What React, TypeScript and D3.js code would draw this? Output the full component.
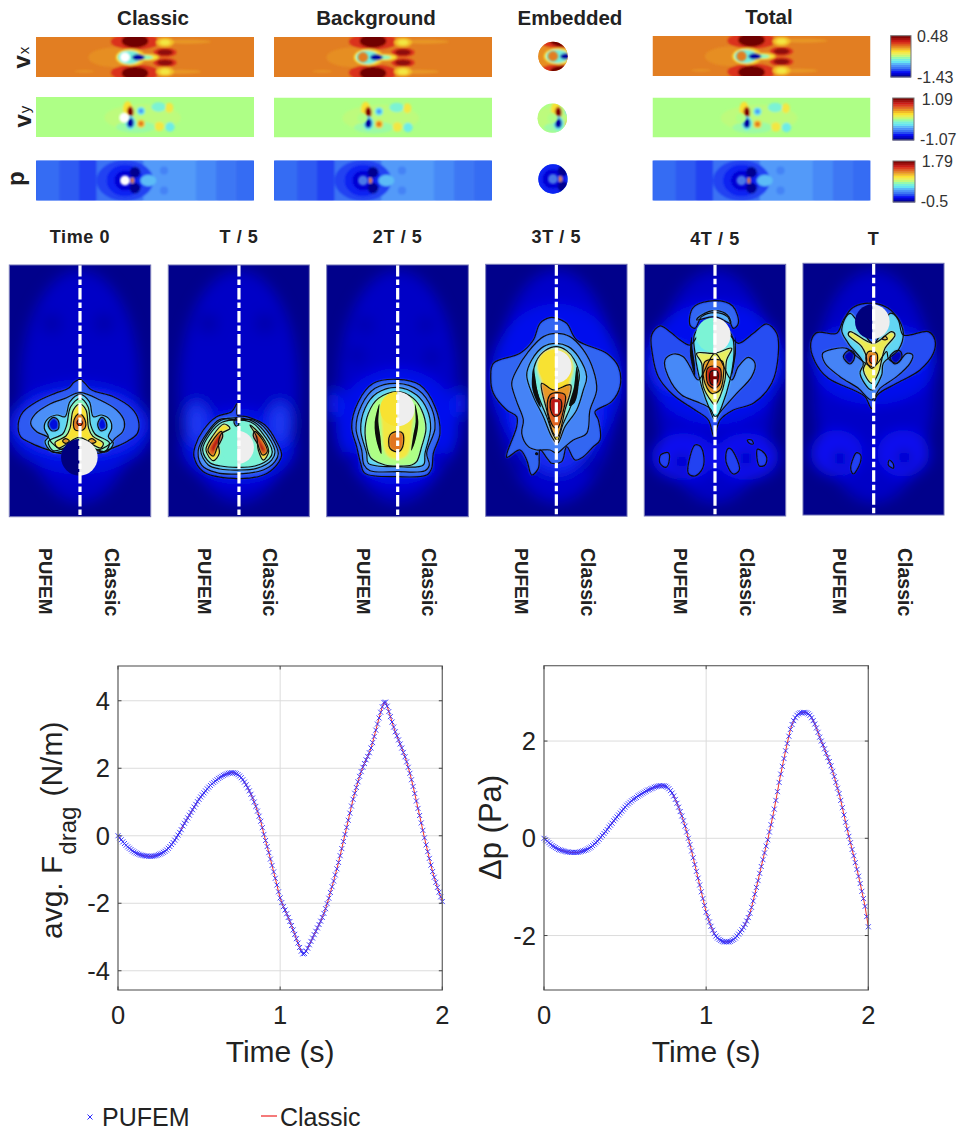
import React from "react";
import * as d3 from "d3";

const WIDTH = 959;
const HEIGHT = 1133;
const SANS = "'Liberation Sans', Arial, sans-serif";
const INK = "#222";

// colour map of the field plots, level 0..1
const jetLevels = [0, 0.12, 0.2, 0.3, 0.38, 0.45, 0.5, 0.56, 0.63, 0.75, 0.86, 1];
const jetColors = ["#00007c", "#0508f2", "#3366f2", "#55a0fa", "#66e8f0", "#80f5d0", "#aeff86", "#e8f060", "#fbe02c", "#e27e22", "#d8201a", "#700000"];
const jet = d3.scaleLinear().domain(jetLevels).range(jetColors);

// ---- top block: strips. blob = [x, y, rx, ry, level], strip frame is 654 x 120
const stripTitles = ["Classic", "Background", "Embedded", "Total"];
const rowNames = ["x", "y", ""];
const rowBackground = [0.75, 0.5, 0.2];
const colorbarMin = ["-1.43", "-1.07", "-0.5"];
const colorbarMax = ["0.48", "1.09", "1.79"];

const vxBlobs = [
  [242, 61, 85, 30, 0.73], [145, 103, 30, 3, 0.72], [450, 14, 75, 6, 0.72], [430, 104, 65, 6, 0.72],
  [297, 14, 72, 24, 0.84], [297, 12, 40, 20, 1], [297, 107, 72, 24, 0.84], [297, 109, 40, 20, 1],
  [387, 16, 27, 14, 0.67], [387, 16, 15, 8, 0.6], [387, 104, 27, 14, 0.67], [387, 104, 15, 8, 0.6],
  [387, 46, 35, 13, 0.84], [387, 46, 24, 9, 0.96], [387, 77, 35, 13, 0.84], [387, 77, 24, 9, 0.96],
  [284, 61, 44, 25, 0.62], [332, 61, 36, 10, 0.62], [280, 61, 34, 20, 0.42], [326, 61, 26, 6, 0.46], [307, 61, 19, 9, 0.04],
];
const vyBlobs = [
  [320, 62, 115, 40, 0.515], [300, 90, 60, 18, 0.48], [275, 35, 14, 22, 0.62], [283, 45, 10, 17, 0.9], [283, 45, 6, 12, 1],
  [283, 77, 15, 21, 0.38], [283, 77, 10, 14, 0.04], [315, 42, 12, 12, 0.38], [315, 42, 7, 7, 0.28],
  [315, 80, 12, 12, 0.66], [315, 80, 7, 7, 0.76], [368, 30, 22, 14, 0.44], [400, 32, 12, 15, 0.6],
  [370, 88, 14, 14, 0.6], [402, 90, 14, 14, 0.4],
];
const pBlobs = [
  [267, 60, 85, 62, 0.17], [267, 60, 55, 47, 0.14], [267, 60, 32, 30, 0.09], [297, 35, 16, 16, 0.02], [297, 83, 16, 16, 0.02],
  [337, 60, 24, 17, 0.33], [384, 30, 12, 12, 0.25], [384, 90, 12, 12, 0.25], [289, 60, 5, 8, 0.68], [289, 60, 2.5, 4, 0.88],
];
// pressure steps along the channel: [from, to, level]
const pBands = [
  [0, 70, 0.21], [70, 129, 0.19], [129, 182, 0.17], [182, 322, 0.22], [322, 482, 0.29], [482, 542, 0.26], [542, 602, 0.23], [602, 654, 0.21],
];
const rowBlobs = [vxBlobs, vyBlobs, pBlobs];
const cylinderAt = [[267, 61], [265, 62], [267, 60]];
const cylinderR = 15;

// ---- time panels. frame = read-off extent of each panel
const timeLabels = ["Time 0", "T / 5", "2T / 5", "3T / 5", "4T / 5", "T"];
const panelFrames = [
  { dx: [28, 452], dy: [135, 890], rx: [9.3, 150.7], ry: [265, 516.7] },
  { dx: [505, 928], dy: [135, 890], rx: [168.3, 309.3], ry: [265, 516.7] },
  { dx: [20, 445], dy: [135, 890], rx: [326.7, 468.3], ry: [265, 516.7] },
  { dx: [497, 921], dy: [133, 889], rx: [485.7, 627], ry: [264.3, 516.3] },
  { dx: [13, 437], dy: [133, 888], rx: [644.3, 785.7], ry: [264.3, 516] },
  { dx: [489, 912], dy: [130, 885], rx: [803, 944], ry: [263.3, 515] },
];
const centerLines = [240, 717, 233, 709, 225, 701];
const pufemBase = [39.3, 198, 356.7, 515.4, 674, 832.7];
const classicBase = [105, 263, 421.7, 580.5, 740, 898];
const timeLabelY = [243, 243, 243, 243, 245, 245];

// cylinder: x, y, r, level of the left half
const cylinders = [
  [238, 712, 55, 0], [712, 682, 50, 0.44], [232, 567, 52, 0.62], [705, 440, 50, 0.62], [220, 345, 52, 0.44], [697, 305, 52, 0],
];

// glow = [x, y, rx, ry, level], wide soft patches
const glows0 = [[240, 500, 180, 350, 0.075], [238, 625, 215, 140, 0.105], [238, 610, 195, 95, 0.15], [155, 310, 30, 30, 0.045], [312, 310, 30, 30, 0.045]];
const glows1 = [[717, 500, 180, 350, 0.075], [715, 680, 170, 115, 0.11], [590, 610, 34, 65, 0.16], [840, 610, 34, 65, 0.16], [625, 310, 30, 30, 0.045], [795, 310, 30, 30, 0.045]];
const glows2 = [[233, 500, 180, 350, 0.075], [232, 620, 185, 175, 0.115], [40, 550, 18, 45, 0.14], [422, 550, 18, 45, 0.14], [135, 315, 24, 24, 0.045], [318, 315, 24, 24, 0.045], [110, 405, 24, 24, 0.045], [335, 410, 24, 24, 0.045], [100, 715, 20, 20, 0.04], [355, 715, 20, 20, 0.04]];
const glows3 = [[709, 500, 180, 350, 0.08], [709, 480, 200, 230, 0.115], [709, 560, 130, 200, 0.15], [600, 730, 22, 22, 0.04], [810, 730, 22, 22, 0.04]];
const glows4 = [[225, 500, 180, 350, 0.075], [225, 430, 210, 185, 0.115], [100, 440, 62, 70, 0.15], [345, 440, 62, 70, 0.15], [130, 710, 95, 70, 0.125], [320, 710, 95, 70, 0.125], [125, 725, 22, 22, 0.04], [318, 715, 22, 22, 0.04]];
const glows5 = [[701, 500, 180, 350, 0.075], [701, 430, 185, 125, 0.115], [600, 400, 72, 50, 0.15], [790, 400, 72, 50, 0.15], [590, 700, 78, 70, 0.125], [790, 700, 78, 70, 0.125], [600, 715, 22, 22, 0.04], [793, 712, 22, 22, 0.04]];
const panelGlows = [glows0, glows1, glows2, glows3, glows4, glows5];

// layer = { l: level, p: outline points, line: draw a contour, ink: solid black slit }
const layers0 = [
  { l: 0.19, line: 1, p: [[240, 478], [222, 487], [205, 505], [165, 520], [110, 545], [70, 575], [55, 610], [62, 650], [95, 670], [140, 688], [182, 700], [240, 680], [290, 700], [335, 685], [380, 665], [412, 640], [415, 600], [395, 565], [340, 530], [275, 510], [255, 490]] },
  { l: 0.27, line: 1, p: [[240, 518], [195, 535], [150, 552], [105, 583], [92, 610], [110, 635], [145, 652], [155, 668], [190, 690], [238, 670], [290, 690], [330, 672], [345, 655], [368, 635], [373, 605], [350, 570], [300, 540]] },
  { l: 0.36, line: 1, p: [[240, 523], [210, 545], [195, 590], [170, 585], [140, 600], [133, 625], [145, 650], [135, 665], [155, 695], [185, 695], [238, 668], [290, 692], [320, 695], [340, 670], [325, 650], [335, 625], [330, 600], [305, 585], [280, 590], [268, 545]] },
  { l: 0.1, line: 1, p: [[160, 592], [144, 612], [155, 632], [174, 628], [175, 602]] },
  { l: 0.1, line: 1, p: [[305, 592], [293, 612], [302, 632], [319, 625], [317, 602]] },
  { l: 0.46, line: 1, p: [[240, 535], [212, 560], [200, 615], [188, 642], [145, 665], [160, 692], [190, 685], [238, 662], [285, 686], [315, 694], [328, 668], [285, 642], [272, 615], [264, 560]] },
  { l: 0.62, line: 1, p: [[240, 552], [220, 570], [210, 625], [198, 648], [165, 668], [175, 684], [197, 674], [238, 652], [282, 676], [302, 684], [310, 670], [278, 648], [266, 625], [258, 570]] },
  { l: 0.76, line: 1, p: [[238, 580], [222, 600], [224, 628], [240, 632], [254, 625], [255, 600]] },
  { l: 0.86, line: 1, p: [[238, 598], [231, 608], [240, 618], [247, 608]] },
  { l: 0.74, line: 1, p: [[197, 656], [188, 663], [197, 670], [208, 663]] },
  { l: 0.74, line: 1, p: [[275, 656], [265, 663], [275, 670], [288, 665]] },
];
const layers1 = [
  { l: 0.18, line: 1, p: [[712, 550], [695, 575], [650, 590], [610, 630], [585, 680], [582, 710], [610, 755], [700, 775], [790, 765], [830, 735], [845, 705], [830, 665], [795, 615], [740, 590], [712, 585]] },
  { l: 0.27, line: 1, p: [[712, 600], [660, 598], [620, 640], [595, 690], [605, 735], [650, 758], [712, 762], [790, 750], [825, 725], [835, 700], [800, 630], [760, 600]] },
  { l: 0.34, line: 1, p: [[665, 600], [625, 640], [602, 690], [625, 735], [660, 747], [712, 750], [770, 745], [815, 720], [825, 695], [790, 630], [750, 600]] },
  { l: 0.44, line: 1, p: [[668, 606], [630, 642], [608, 690], [630, 728], [662, 738], [712, 742], [765, 738], [808, 716], [817, 695], [785, 636], [752, 606]] },
  { l: 0.62, line: 1, p: [[672, 612], [638, 648], [618, 690], [640, 722], [658, 700], [655, 670], [665, 640], [690, 625]] },
  { l: 0.62, line: 1, p: [[750, 615], [788, 652], [806, 695], [790, 720], [775, 690], [770, 650]] },
  { l: 0.78, line: 1, p: [[664, 634], [642, 656], [624, 692], [640, 708], [652, 682], [668, 650]] },
  { l: 0.78, line: 1, p: [[764, 634], [788, 660], [802, 695], [788, 705], [772, 670], [760, 648]] },
  { l: 0.9, p: [[660, 645], [645, 662], [634, 688], [642, 695], [650, 678], [662, 655]] },
  { l: 0.9, p: [[766, 648], [782, 668], [794, 692], [784, 692], [772, 666], [762, 654]] },
  { l: 0.08, line: 1, p: [[712, 592], [702, 604], [708, 618], [716, 614]] },
];
const layers2 = [
  { l: 0.2, line: 1, p: [[232, 478], [160, 490], [115, 545], [95, 620], [110, 680], [122, 730], [135, 760], [232, 770], [320, 765], [335, 745], [340, 700], [360, 640], [345, 560], [300, 495]] },
  { l: 0.26, line: 1, p: [[232, 490], [165, 505], [125, 555], [108, 625], [125, 690], [132, 735], [150, 752], [232, 755], [315, 752], [328, 735], [320, 700], [345, 625], [335, 565], [295, 510]] },
  { l: 0.36, line: 1, p: [[232, 502], [170, 520], [135, 565], [122, 630], [140, 700], [145, 730], [232, 740], [310, 735], [315, 700], [332, 625], [322, 570], [290, 525]] },
  { l: 0.5, line: 1, p: [[232, 515], [175, 535], [145, 580], [135, 640], [150, 710], [160, 720], [195, 735], [232, 738], [275, 735], [290, 725], [305, 680], [318, 625], [305, 570], [280, 535]] },
  { l: 0.6, p: [[190, 560], [186, 620], [200, 705], [232, 718], [262, 705], [276, 620], [276, 560]] },
  { l: 0, ink: 1, p: [[178, 552], [164, 610], [170, 665], [184, 702], [181, 650], [175, 605]] },
  { l: 0, ink: 1, p: [[285, 552], [295, 605], [285, 665], [274, 692], [279, 650], [287, 605]] },
  { l: 0.76, line: 1, p: [[210, 645], [210, 685], [235, 695], [248, 680], [248, 640], [232, 635]] },
];
const layers3 = [
  { l: 0.2, line: 1, p: [[690, 293], [660, 310], [640, 360], [600, 400], [520, 430], [512, 470], [520, 520], [560, 570], [590, 590], [590, 620], [560, 712], [600, 690], [620, 720], [635, 765], [655, 745], [660, 690], [685, 720], [695, 730], [725, 725], [740, 680], [765, 720], [790, 710], [820, 680], [840, 660], [835, 600], [825, 575], [875, 545], [900, 500], [895, 440], [860, 400], [770, 360], [740, 310], [710, 295]] },
  { l: 0.25, line: 1, p: [[709, 340], [670, 350], [625, 395], [590, 450], [575, 490], [590, 545], [610, 600], [605, 640], [625, 680], [650, 690], [690, 690], [710, 700], [735, 680], [760, 660], [800, 640], [810, 570], [830, 510], [820, 450], [790, 390], [750, 350]] },
  { l: 0.33, line: 1, p: [[709, 370], [670, 380], [635, 420], [620, 465], [640, 530], [670, 590], [695, 650], [712, 670], [735, 620], [770, 570], [790, 510], [800, 470], [775, 410], [745, 380]] },
  { l: 0.42, line: 1, p: [[709, 380], [675, 392], [648, 425], [640, 465], [652, 520], [680, 590], [700, 645], [712, 662], [728, 615], [752, 560], [772, 500], [778, 465], [762, 418], [740, 392]] },
  { l: 0, ink: 1, p: [[640, 445], [636, 500], [648, 540], [662, 562], [652, 510]] },
  { l: 0, ink: 1, p: [[770, 440], [762, 500], [748, 558], [764, 548], [776, 490]] },
  { l: 0.62, p: [[709, 385], [665, 400], [652, 440], [665, 490], [709, 670], [750, 490], [760, 440], [745, 400]] },
  { l: 0.72, line: 1, p: [[665, 490], [700, 510], [752, 495], [735, 570], [712, 650], [700, 640], [680, 570]] },
  { l: 0.78, line: 1, p: [[690, 525], [682, 565], [700, 620], [712, 625], [728, 580], [735, 525], [710, 518]] },
  { l: 0.9, line: 1, p: [[695, 535], [692, 570], [705, 590], [720, 580], [722, 540]] },
  { l: 0, ink: 1, p: [[648, 697], [645, 703], [652, 706], [654, 699]] },
];
const layers4 = [
  { l: 0.18, line: 1, p: [[60, 318], [35, 345], [37, 400], [55, 470], [100, 525], [165, 570], [205, 600], [222, 650], [240, 600], [280, 570], [340, 550], [395, 490], [415, 400], [410, 340], [380, 312], [340, 340], [295, 370], [270, 345], [225, 300], [175, 345], [150, 375], [120, 360], [90, 335]] },
  { l: 0.26, line: 1, p: [[100, 402], [75, 420], [85, 470], [125, 525], [170, 545], [210, 565], [225, 590], [250, 565], [290, 520], [335, 470], [345, 430], [325, 412], [295, 440], [275, 480], [225, 400], [175, 480], [150, 440], [130, 410]] },
  { l: 0.2, line: 1, p: [[150, 315], [160, 262], [225, 242], [278, 258], [295, 310], [280, 325], [262, 290], [225, 278], [185, 290], [165, 325]] },
  { l: 0.32, line: 1, p: [[170, 300], [185, 285], [225, 272], [262, 285], [272, 310], [225, 290]] },
  { l: 0.38, line: 1, p: [[165, 340], [165, 400], [185, 500], [210, 570], [225, 600], [245, 560], [270, 480], [282, 400], [275, 345], [225, 300]] },
  { l: 0, ink: 1, p: [[155, 350], [150, 400], [165, 470], [164, 430], [158, 390]] },
  { l: 0, ink: 1, p: [[285, 350], [288, 395], [275, 470], [277, 440], [284, 390]] },
  { l: 0.56, line: 1, p: [[170, 400], [185, 430], [190, 500], [215, 545], [225, 555], [240, 530], [255, 480], [260, 420], [275, 385], [225, 400]] },
  { l: 0.72, line: 1, p: [[195, 425], [192, 480], [215, 520], [240, 510], [250, 470], [248, 425], [225, 418]] },
  { l: 0.88, line: 1, p: [[203, 445], [203, 490], [222, 505], [240, 490], [240, 445], [222, 438]] },
  { l: 0.98, line: 1, p: [[212, 455], [212, 490], [222, 495], [232, 485], [232, 455]] },
  { l: 0.17, line: 1, p: [[62, 705], [60, 730], [78, 742], [88, 720], [85, 698]] },
  { l: 0.17, line: 1, p: [[165, 675], [150, 710], [145, 760], [165, 768], [188, 745], [190, 700], [180, 678]] },
  { l: 0.17, line: 1, p: [[262, 688], [258, 725], [280, 762], [298, 750], [285, 705], [270, 685]] },
  { l: 0.17, line: 1, p: [[322, 660], [328, 670], [340, 672], [335, 660]] },
  { l: 0.17, line: 1, p: [[352, 688], [358, 738], [375, 735], [380, 712], [365, 692]] },
];
const layers5 = [
  { l: 0.18, line: 1, p: [[640, 262], [610, 300], [590, 340], [530, 338], [512, 370], [525, 425], [565, 475], [640, 510], [675, 530], [695, 565], [712, 525], [770, 490], [840, 450], [880, 400], [885, 360], [865, 335], [790, 345], [775, 300], [745, 265], [700, 250]] },
  { l: 0.25, line: 1, p: [[575, 388], [548, 400], [555, 430], [600, 470], [655, 505], [695, 540], [720, 505], [770, 470], [810, 430], [818, 405], [800, 400], [770, 430], [745, 415], [740, 395], [700, 440], [645, 405], [620, 385]] },
  { l: 0.36, line: 1, p: [[630, 280], [605, 330], [625, 370], [670, 430], [660, 460], [695, 510], [725, 465], [730, 430], [775, 390], [790, 340], [770, 290], [750, 280], [700, 370]] },
  { l: 0.06, line: 1, p: [[625, 392], [610, 410], [630, 432], [643, 415], [640, 395]] },
  { l: 0.06, line: 1, p: [[770, 392], [750, 410], [765, 432], [785, 415], [782, 395]] },
  { l: 0.58, line: 1, p: [[630, 335], [625, 345], [665, 380], [680, 420], [670, 450], [695, 490], [715, 460], [725, 420], [735, 385], [765, 345], [755, 335], [700, 370]] },
  { l: 0.74, line: 1, p: [[685, 395], [678, 420], [695, 445], [710, 430], [710, 400]] },
  { l: 0.86, line: 1, p: [[692, 408], [690, 425], [700, 432], [702, 412]] },
  { l: 0.72, line: 1, p: [[735, 348], [727, 358], [742, 358]] },
  { l: 0.17, line: 1, p: [[650, 698], [632, 745], [640, 762], [660, 730], [662, 705]] },
  { l: 0.17, line: 1, p: [[748, 720], [745, 735], [760, 745], [760, 732]] },
];
const panelLayers = [layers0, layers1, layers2, layers3, layers4, layers5];

// ---- line charts, one value every 0.01 s from t = 0 to t = 2
const dragPufem = [
  0, -0.06, -0.12, -0.18, -0.23, -0.28, -0.33, -0.37, -0.41, -0.45, -0.48, -0.51, -0.53, -0.55, -0.57, -0.58, -0.59, -0.6, -0.6, -0.61,
  -0.61, -0.61, -0.6, -0.59, -0.58, -0.56, -0.54, -0.52, -0.49, -0.46, -0.42, -0.37, -0.32, -0.26, -0.2, -0.13, -0.06, 0.02, 0.1, 0.18,
  0.29, 0.37, 0.45, 0.53, 0.61, 0.69, 0.77, 0.85, 0.93, 1.01, 1.08, 1.15, 1.21, 1.27, 1.33, 1.39, 1.44, 1.49, 1.54, 1.58,
  1.62, 1.66, 1.7, 1.73, 1.76, 1.79, 1.81, 1.83, 1.85, 1.86, 1.87, 1.87, 1.86, 1.84, 1.81, 1.77, 1.72, 1.66, 1.59, 1.51,
  1.42, 1.33, 1.23, 1.12, 1.0, 0.87, 0.73, 0.58, 0.43, 0.24, 0.04, -0.14, -0.32, -0.5, -0.69, -0.88, -1.07, -1.26, -1.46, -1.66,
  -1.84, -1.98, -2.1, -2.2, -2.31, -2.42, -2.54, -2.66, -2.79, -2.92, -3.05, -3.18, -3.31, -3.42, -3.5, -3.49, -3.42, -3.33, -3.23, -3.13,
  -3.03, -2.93, -2.83, -2.73, -2.63, -2.53, -2.42, -2.3, -2.16, -2.01, -1.85, -1.68, -1.51, -1.34, -1.16, -0.98, -0.79, -0.59, -0.38, -0.17,
  0.04, 0.25, 0.46, 0.67, 0.88, 1.08, 1.26, 1.43, 1.6, 1.76, 1.9, 2.03, 2.14, 2.25, 2.35, 2.46, 2.6, 2.76, 2.94, 3.13,
  3.31, 3.49, 3.66, 3.82, 3.95, 3.96, 3.84, 3.68, 3.53, 3.37, 3.22, 3.08, 2.96, 2.84, 2.72, 2.6, 2.47, 2.34, 2.19, 2.03,
  1.85, 1.66, 1.46, 1.25, 1.03, 0.81, 0.6, 0.38, 0.16, -0.06, -0.27, -0.47, -0.67, -0.87, -1.06, -1.23, -1.38, -1.53, -1.67, -1.81,
  -1.95,
];
const pressurePufem = [
  0, -0.03, -0.06, -0.09, -0.12, -0.15, -0.17, -0.19, -0.21, -0.23, -0.24, -0.25, -0.26, -0.27, -0.28, -0.28, -0.29, -0.29, -0.29, -0.29,
  -0.29, -0.29, -0.28, -0.27, -0.26, -0.25, -0.24, -0.22, -0.2, -0.18, -0.15, -0.12, -0.09, -0.06, -0.02, 0.02, 0.06, 0.1, 0.14, 0.18,
  0.23, 0.27, 0.31, 0.36, 0.4, 0.44, 0.48, 0.52, 0.56, 0.6, 0.64, 0.68, 0.71, 0.74, 0.77, 0.8, 0.82, 0.84, 0.87, 0.89,
  0.91, 0.93, 0.95, 0.97, 0.99, 1.0, 1.02, 1.03, 1.05, 1.06, 1.07, 1.08, 1.08, 1.08, 1.08, 1.07, 1.05, 1.02, 0.98, 0.93,
  0.87, 0.8, 0.72, 0.64, 0.55, 0.46, 0.36, 0.25, 0.13, 0, -0.13, -0.26, -0.4, -0.54, -0.68, -0.82, -0.96, -1.1, -1.24, -1.38,
  -1.52, -1.62, -1.72, -1.81, -1.89, -1.96, -2.01, -2.05, -2.08, -2.1, -2.12, -2.13, -2.13, -2.13, -2.13, -2.12, -2.1, -2.08, -2.05, -2.01,
  -1.97, -1.93, -1.88, -1.83, -1.77, -1.7, -1.63, -1.54, -1.42, -1.29, -1.15, -1.01, -0.87, -0.72, -0.58, -0.44, -0.3, -0.16, -0.03, 0.13,
  0.28, 0.44, 0.6, 0.78, 0.96, 1.15, 1.32, 1.48, 1.64, 1.8, 1.95, 2.1, 2.24, 2.34, 2.42, 2.48, 2.53, 2.56, 2.58, 2.58,
  2.59, 2.59, 2.58, 2.56, 2.53, 2.48, 2.42, 2.35, 2.27, 2.18, 2.08, 2.0, 1.92, 1.84, 1.75, 1.66, 1.58, 1.49, 1.38, 1.27,
  1.15, 1.03, 0.92, 0.78, 0.63, 0.48, 0.33, 0.19, 0.04, -0.09, -0.23, -0.36, -0.5, -0.64, -0.78, -0.93, -1.09, -1.24, -1.4, -1.61,
  -1.82,
];
const dragTicks = [-4, -2, 0, 2, 4];
const pressureTicks = [-2, 0, 2];
const timeTicks = [0, 1, 2];
const TIME_STEP = 0.01;

const closedPath = d3.line().curve(d3.curveCatmullRomClosed.alpha(0.5));

function Strip({ col, row, x0, y0 }) {
  const x = d3.scaleLinear().domain([0, 654]).range([x0, x0 + 218]);
  const y = d3.scaleLinear().domain([0, 120]).range([y0, y0 + 40]);
  const id = `strip-${col}-${row}`;
  const [cx, cy] = cylinderAt[row];
  const embedded = col === 2;
  const bg = jet(rowBackground[row]);
  return (
    <g>
      <clipPath id={id}>
        {embedded ? (
          <circle cx={x(cx)} cy={y(cy)} r={x(44) - x(0)} />
        ) : (
          <rect x={x0} y={y0} width={218} height={40} />
        )}
      </clipPath>
      <g clipPath={`url(#${id})`}>
        <rect x={x0} y={y0} width={218} height={40} fill={bg} />
        <g filter="url(#stripBlur)">
          {row === 2 &&
            pBands.map((b, i) => (
              <rect key={i} x={x(b[0])} y={y0 - 6} width={x(b[1]) - x(b[0])} height={52} fill={jet(b[2])} />
            ))}
          {rowBlobs[row].map((b, i) => (
            <ellipse key={i} cx={x(b[0])} cy={y(b[1])} rx={x(b[2]) - x(0)} ry={y(b[3]) - y(0)} fill={jet(b[4])} />
          ))}
        </g>
        <circle
          cx={x(cx)}
          cy={y(cy)}
          r={x(cylinderR) - x(0)}
          fill={col === 0 ? "#fff" : row === 2 ? "#4a78e8" : bg}
          filter="url(#softBlur)"
        />
      </g>
    </g>
  );
}

function Colorbar({ row, x0, y0, x1, y1, labelX }) {
  const bands = d3.range(0, 1, 1 / 20);
  const y = d3.scaleLinear().domain([0, 1]).range([y1, y0]);
  return (
    <g>
      {bands.map((b, i) => (
        <rect key={i} x={x0} y={y(b + 0.05)} width={x1 - x0} height={y(b) - y(b + 0.05) + 0.4} fill={jet(b + 0.025)} />
      ))}
      <rect x={x0} y={y0} width={x1 - x0} height={y1 - y0} fill="none" stroke="#777" strokeWidth={1} />
      <text x={labelX[0]} y={y0 + [6, 7, 6][row]} fontSize={16} fill="#333" fontFamily={SANS}>{colorbarMax[row]}</text>
      <text x={labelX[1]} y={y1 + [6, 5, 5][row]} fontSize={16} fill="#333" fontFamily={SANS}>{colorbarMin[row]}</text>
    </g>
  );
}

function TimePanel({ index }) {
  const f = panelFrames[index];
  const x = d3.scaleLinear().domain(f.dx).range(f.rx);
  const y = d3.scaleLinear().domain(f.dy).range(f.ry);
  const [w, h] = [f.rx[1] - f.rx[0], f.ry[1] - f.ry[0]];
  const id = `panel-${index}`;
  const toPath = (p) => closedPath(p.map((d) => [x(d[0]), y(d[1])]));
  const layers = panelLayers[index];
  const [cx, cy, cr, cl] = cylinders[index];
  const line = x(centerLines[index]);
  const r = x(cr) - x(0);
  const cxPx = x(cx);
  const cyPx = y(cy);
  const rightHalf = `M${cxPx},${cyPx - r}A${r},${r} 0 0 1 ${cxPx},${cyPx + r}Z`;
  const leftHalf = `M${cxPx},${cyPx - r}A${r},${r} 0 0 0 ${cxPx},${cyPx + r}Z`;
  return (
    <g>
      <clipPath id={id}>
        <rect x={f.rx[0]} y={f.ry[0]} width={w} height={h} />
      </clipPath>
      <g clipPath={`url(#${id})`}>
        <rect x={f.rx[0]} y={f.ry[0]} width={w} height={h} fill={jet(0.015)} />
        <g filter="url(#glowBlur)">
          {panelGlows[index].map((g, i) => (
            <ellipse key={i} cx={x(g[0])} cy={y(g[1])} rx={x(g[2]) - x(0)} ry={y(g[3]) - y(0)} fill={jet(g[4])} />
          ))}
        </g>
        <g filter="url(#softBlur)">
          {layers.filter((l) => !l.ink).map((l, i) => (
            <path key={i} d={toPath(l.p)} fill={jet(l.l)} />
          ))}
        </g>
        <g filter="url(#lineBlur)">
          {layers.filter((l) => l.line).map((l, i) => (
            <path key={i} d={toPath(l.p)} fill="none" stroke="#111" strokeWidth={1.2} />
          ))}
          {layers.filter((l) => l.ink).map((l, i) => (
            <path key={i} d={toPath(l.p)} fill="#080808" />
          ))}
        </g>
        <g filter="url(#lineBlur)">
          <path d={leftHalf} fill={jet(cl)} />
          <path d={rightHalf} fill="#eeeeee" />
        </g>
        <line
          x1={line}
          x2={line}
          y1={f.ry[0]}
          y2={f.ry[1]}
          stroke="#fff"
          strokeWidth={3.2}
          strokeDasharray="11.5 3 5.5 3"
        />
      </g>
      <rect x={f.rx[0]} y={f.ry[0]} width={w} height={h} fill="none" stroke="#6f70b5" strokeWidth={1} />
      <text
        x={line}
        y={timeLabelY[index]}
        textAnchor="middle"
        fontFamily={SANS}
        fontWeight="bold"
        fontSize={18}
        letterSpacing={0.6}
        fill={INK}
      >
        {timeLabels[index]}
      </text>
      <text
        transform={`translate(${pufemBase[index]},548) rotate(90)`}
        fontFamily={SANS}
        fontWeight="bold"
        fontSize={19}
        fill={INK}
      >
        PUFEM
      </text>
      <text
        transform={`translate(${classicBase[index]},548) rotate(90)`}
        fontFamily={SANS}
        fontWeight="bold"
        fontSize={19.5}
        fill={INK}
      >
        Classic
      </text>
    </g>
  );
}

function LineChart({ x0, x1, y0, y1, domain, values, ticks, tickLabelX, children }) {
  const x = d3.scaleLinear().domain([0, 2]).range([x0, x1]);
  const y = d3.scaleLinear().domain(domain).range([y1, y0]);
  const line = d3
    .line()
    .x((d, i) => x(i * TIME_STEP))
    .y((d) => y(d));
  const tickLen = 3.5;
  const arm = 2.5;
  return (
    <g>
      {timeTicks.map((t) => (
        <line key={t} x1={x(t)} x2={x(t)} y1={y0} y2={y1} stroke="#dcdcdc" strokeWidth={1} />
      ))}
      {ticks.map((t) => (
        <line key={t} x1={x0} x2={x1} y1={y(t)} y2={y(t)} stroke="#dcdcdc" strokeWidth={1} />
      ))}
      <path d={line(values)} fill="none" stroke="#ee3030" strokeWidth={1} />
      <g stroke="#2e2eff" strokeWidth={0.9} fill="none">
        {values.map((v, i) => (
          <path
            key={i}
            d={`M${x(i * TIME_STEP) - arm},${y(v) - arm}L${x(i * TIME_STEP) + arm},${y(v) + arm}M${x(i * TIME_STEP) - arm},${y(v) + arm}L${x(i * TIME_STEP) + arm},${y(v) - arm}`}
          />
        ))}
      </g>
      <rect x={x0} y={y0} width={x1 - x0} height={y1 - y0} fill="none" stroke="#666" strokeWidth={1.2} />
      <g stroke="#444" strokeWidth={1}>
        {timeTicks.map((t) => (
          <g key={t}>
            <line x1={x(t)} x2={x(t)} y1={y1} y2={y1 - tickLen} />
            <line x1={x(t)} x2={x(t)} y1={y0} y2={y0 + tickLen} />
          </g>
        ))}
        {ticks.map((t) => (
          <g key={t}>
            <line x1={x0} x2={x0 + tickLen} y1={y(t)} y2={y(t)} />
            <line x1={x1} x2={x1 - tickLen} y1={y(t)} y2={y(t)} />
          </g>
        ))}
      </g>
      <g fontFamily={SANS} fontSize={25.5} fill={INK}>
        {timeTicks.map((t) => (
          <text key={t} x={x(t)} y={1023.5} textAnchor="middle">{t}</text>
        ))}
        {ticks.map((t) => (
          <text key={t} x={tickLabelX} y={y(t) + 9} textAnchor="end">{t}</text>
        ))}
        <text x={(x0 + x1) / 2} y={1061.5} textAnchor="middle" fontSize={30}>Time (s)</text>
      </g>
      {children}
    </g>
  );
}

export default function App() {
  const stripX = [36, 274, 464, 652.5];
  const stripY = [
    [37, 97, 160.5],
    [37, 97.5, 160.5],
    [36, 97.5, 159],
    [36, 97.5, 160.5],
  ];
  const titleX = [153, 376, 570, 769];
  const titleY = [25, 25, 25, 23.5];
  const barRects = [
    [890.7, 35.7, 911, 77, [917, 917]],
    [892.7, 98, 914, 140, [921.7, 920]],
    [893, 161, 915, 202, [921.7, 920.7]],
  ];
  return (
    <svg width={WIDTH} height={HEIGHT} style={{ position: "absolute", left: 0, top: 0, background: "#fff" }}>
      <defs>
        <filter id="stripBlur" x="-10%" y="-30%" width="120%" height="160%"><feGaussianBlur stdDeviation="1.3" /></filter>
        <filter id="softBlur" x="-10%" y="-10%" width="120%" height="120%"><feGaussianBlur stdDeviation="0.9" /></filter>
        <filter id="lineBlur" x="-10%" y="-10%" width="120%" height="120%"><feGaussianBlur stdDeviation="0.4" /></filter>
        <filter id="glowBlur" x="-20%" y="-20%" width="140%" height="140%"><feGaussianBlur stdDeviation="7" /></filter>
      </defs>

      {stripTitles.map((t, i) => (
        <text key={t} x={titleX[i]} y={titleY[i]} textAnchor="middle" fontFamily={SANS} fontWeight="bold" fontSize={20.5} fill={INK}>
          {t}
        </text>
      ))}
      {rowBackground.map((_, row) => (
        <g key={row}>
          {stripX.map((x0, col) => (
            <Strip key={col} col={col} row={row} x0={x0} y0={stripY[col][row]} />
          ))}
          <Colorbar
            row={row}
            x0={barRects[row][0]}
            y0={barRects[row][1]}
            x1={barRects[row][2]}
            y1={barRects[row][3]}
            labelX={barRects[row][4]}
          />
        </g>
      ))}
      <g fontFamily={SANS} fontWeight="bold" fontSize={24} fill={INK}>
        <text transform="translate(29.5,68.5) rotate(-90)">
          v<tspan fontSize={15} fontWeight="normal" dy={-1} dx={1}>{rowNames[0]}</tspan>
        </text>
        <text transform="translate(30.5,127.5) rotate(-90)">
          v<tspan fontSize={15} fontWeight="normal" dy={-1} dx={1}>{rowNames[1]}</tspan>
        </text>
        <text transform="translate(23.5,186) rotate(-90)">p</text>
      </g>

      {timeLabels.map((_, i) => (
        <TimePanel key={i} index={i} />
      ))}

      <LineChart x0={118} x1={442.3} y0={666} y1={990} domain={[-4.57, 5.03]} values={dragPufem} ticks={dragTicks} tickLabelX={110}>
        <text transform="translate(61.5,939) rotate(-90)" fontFamily={SANS} fontSize={30} fill={INK}>
          avg. F<tspan fontSize={24} dy={14} dx={1}>drag</tspan>
          <tspan dy={-14} dx={10}>(N/m)</tspan>
        </text>
      </LineChart>
      <LineChart x0={544} x1={868.3} y0={665.7} y1={990} domain={[-3.12, 3.55]} values={pressurePufem} ticks={pressureTicks} tickLabelX={536}>
        <text transform="translate(501,880) rotate(-90)" fontFamily={SANS} fontSize={31} fill={INK}>
          Δp (Pa)
        </text>
      </LineChart>

      <g fontFamily={SANS} fontSize={25} fill={INK}>
        <path d="M87.5,1114.5l5,5M87.5,1119.5l5,-5" stroke="#2a2aff" strokeWidth={1} fill="none" />
        <text x={102} y={1126}>PUFEM</text>
        <line x1={261} x2={277} y1={1116} y2={1116} stroke="#ee2020" strokeWidth={1.2} />
        <text x={280} y={1126}>Classic</text>
      </g>
    </svg>
  );
}
